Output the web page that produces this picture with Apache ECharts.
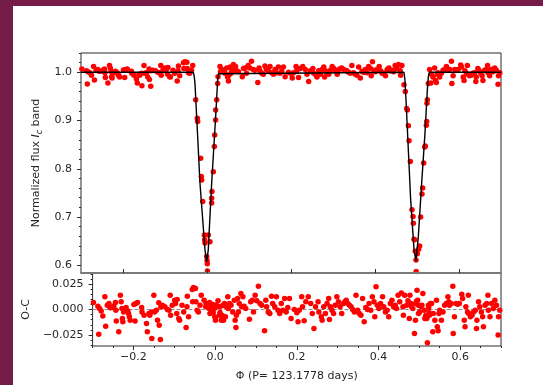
<!DOCTYPE html>
<html><head><meta charset="utf-8">
<script src="https://cdn.jsdelivr.net/npm/echarts@6/dist/echarts.min.js"></script>
<style>
html,body{margin:0;padding:0;background:#741b47;overflow:hidden;}
#wrap{position:absolute;left:0;top:0;width:543px;height:385px;background:#741b47;}
#chart{position:absolute;left:13px;top:6px;width:530px;height:379px;background:#ffffff;}
</style></head><body>
<div id="wrap"><div id="chart"></div></div>
<script>
const phase = [
-0.298,-0.287,-0.285,-0.283,-0.279,-0.275,-0.270,-0.268,-0.264,-0.260,
-0.257,-0.252,-0.248,-0.244,-0.243,-0.242,-0.236,-0.232,-0.230,-0.228,
-0.227,-0.226,-0.224,-0.218,-0.214,-0.212,-0.210,-0.208,-0.199,-0.196,
-0.194,-0.190,-0.180,-0.179,-0.174,-0.168,-0.166,-0.162,-0.160,-0.156,
-0.155,-0.150,-0.148,-0.144,-0.141,-0.138,-0.137,-0.134,-0.133,-0.129,
-0.123,-0.117,-0.113,-0.110,-0.109,-0.105,-0.099,-0.097,-0.094,-0.093,
-0.089,-0.087,-0.081,-0.077,-0.071,-0.069,-0.068,-0.065,-0.056,-0.055,
-0.053,-0.048,-0.047,-0.044,-0.041,-0.037,-0.034,-0.0270,-0.0230,-0.0222,
-0.0151,-0.0135,-0.0127,-0.0103,-0.0063,-0.0056,-0.0048,-0.0008,0.0000,0.0008,
0.0010,0.0030,0.0071,0.0111,0.0111,0.0119,0.0151,0.0175,0.0183,0.0206,
0.0206,0.0230,0.0254,0.0262,0.031,0.032,0.035,0.039,0.043,0.047,
0.049,0.051,0.052,0.055,0.057,0.059,0.063,0.065,0.068,0.071,
0.075,0.084,0.087,0.091,0.094,0.098,0.102,0.106,0.110,0.114,
0.121,0.124,0.126,0.130,0.134,0.138,0.141,0.146,0.150,0.154,
0.158,0.162,0.166,0.170,0.174,0.178,0.182,0.186,0.194,0.200,
0.203,0.206,0.212,0.214,0.218,0.222,0.228,0.234,0.238,0.242,
0.246,0.252,0.254,0.260,0.262,0.266,0.270,0.274,0.278,0.280,
0.282,0.286,0.290,0.294,0.298,0.302,0.306,0.310,0.314,0.318,
0.321,0.325,0.329,0.333,0.337,0.341,0.345,0.349,0.353,0.357,
0.361,0.365,0.369,0.373,0.377,0.381,0.385,0.389,0.391,0.394,
0.397,0.401,0.405,0.410,0.413,0.417,0.421,0.425,0.429,0.433,
0.437,0.441,0.444,0.448,0.452,0.456,0.460,0.461,0.464,0.4690,
0.4722,0.4754,0.4770,0.4794,0.4810,0.4841,0.4881,0.4905,0.4913,0.4929,
0.4944,0.4960,0.4976,0.4980,0.5008,0.5040,0.5063,0.5087,0.5119,0.5135,
0.5159,0.5183,0.5198,0.5222,0.5230,0.5238,0.5246,0.5270,0.530,0.533,
0.534,0.538,0.542,0.544,0.546,0.548,0.550,0.554,0.558,0.562,
0.566,0.570,0.572,0.574,0.578,0.582,0.583,0.586,0.590,0.594,
0.598,0.604,0.606,0.610,0.612,0.614,0.618,0.620,0.621,0.625,
0.629,0.633,0.637,0.640,0.641,0.645,0.648,0.652,0.655,0.657,
0.661,0.665,0.668,0.669,0.673,0.677,0.681,0.685,0.689,0.693,
0.694,0.697
];
const flux = [
1.007,1.003,0.976,1.001,0.999,0.994,1.012,0.984,1.004,1.006,
1.002,1.002,1.004,1.007,0.999,0.989,0.978,1.014,1.008,1.001,
0.991,0.988,0.998,1.002,0.999,0.996,0.993,0.990,1.005,0.989,
1.006,1.007,1.002,0.998,0.994,0.986,0.978,0.996,0.994,0.998,
0.972,1.014,0.998,0.999,0.990,1.007,0.985,0.971,1.003,1.004,
1.003,1.000,0.999,1.014,0.994,1.004,1.009,1.006,0.996,1.010,
0.991,0.990,1.004,0.998,0.982,1.003,1.013,0.993,1.020,1.008,
1.022,1.021,1.008,0.999,0.998,1.004,1.014,0.943,0.905,0.898,
0.822,0.784,0.777,0.732,0.663,0.653,0.646,0.618,0.610,0.603,
0.588,0.663,0.649,0.739,0.729,0.753,0.794,0.846,0.870,0.901,
0.922,0.943,0.977,0.991,1.012,1.001,1.006,1.004,0.998,1.009,
0.990,0.982,0.994,1.011,0.998,1.006,1.016,1.003,1.012,1.003,
1.001,0.991,1.008,1.009,0.998,1.014,1.009,1.023,1.006,1.004,
0.979,1.009,1.003,0.998,0.996,1.013,1.006,1.003,1.012,0.999,
0.996,1.006,0.999,1.011,0.998,1.002,1.011,0.991,1.000,0.997,
0.988,0.999,1.012,1.003,0.989,1.008,1.012,1.006,0.996,0.981,
1.003,1.008,0.998,0.993,0.990,1.003,0.996,1.006,1.011,0.990,
1.003,0.999,0.996,1.004,1.012,1.008,1.003,0.996,1.006,1.008,
1.009,1.006,1.004,1.003,1.000,0.998,1.014,0.999,0.996,0.994,
1.011,0.988,1.002,1.000,1.006,0.999,1.012,1.008,0.993,1.022,
1.004,1.001,1.006,1.012,1.003,0.998,0.999,0.993,1.006,1.009,
1.003,1.004,1.001,1.014,1.008,1.016,1.003,0.994,1.014,0.974,
0.960,0.925,0.922,0.889,0.858,0.815,0.715,0.701,0.687,0.654,
0.653,0.629,0.611,0.587,0.624,0.633,0.640,0.700,0.748,0.760,
0.812,0.845,0.847,0.890,0.898,0.936,0.943,0.977,1.006,0.978,
0.996,0.990,1.009,0.983,0.979,0.996,0.999,0.990,0.998,1.004,
1.006,1.012,1.008,1.004,1.006,1.023,0.977,0.993,1.006,1.005,
1.006,1.015,1.011,0.990,0.983,1.003,0.998,1.014,0.996,0.993,
0.994,0.998,0.999,0.981,0.990,1.008,1.003,0.998,0.993,0.983,
1.004,1.006,1.014,0.999,0.993,1.006,1.001,1.009,1.004,0.975,
0.993,0.999
];
const oc = [
0.0069,0.0032,-0.0242,0.0010,-0.0014,-0.0063,0.0124,-0.0164,0.0042,0.0059,
0.0016,0.0019,0.0035,0.0069,-0.0007,-0.0112,-0.0219,0.0140,0.0075,0.0010,
-0.0088,-0.0121,-0.0024,0.0020,-0.0014,-0.0039,-0.0072,-0.0105,0.0050,-0.0112,
0.0059,0.0069,0.0020,-0.0024,-0.0056,-0.0137,-0.0219,-0.0039,-0.0056,-0.0024,
-0.0284,0.0140,-0.0024,-0.0007,-0.0105,0.0066,-0.0154,-0.0294,0.0026,0.0042,
0.0026,0.0000,-0.0007,0.0140,-0.0056,0.0042,0.0091,0.0059,-0.0039,0.0098,
-0.0088,-0.0105,0.0042,-0.0024,-0.0176,0.0026,0.0130,-0.0072,0.0195,0.0075,
0.0216,0.0206,0.0075,-0.0007,-0.0024,0.0042,0.0140,0.0091,0.0026,0.0059,
0.0010,0.0069,-0.0039,0.0032,-0.0007,0.0050,-0.0030,-0.0072,0.0015,-0.0105,
-0.0080,0.0045,0.0085,0.0026,-0.0056,-0.0030,-0.0105,-0.0060,0.0040,-0.0105,
0.0042,0.0060,-0.0072,0.0030,0.0124,0.0010,0.0059,0.0042,-0.0024,0.0091,
-0.0105,-0.0176,-0.0056,0.0108,-0.0024,0.0059,0.0157,0.0026,0.0124,0.0032,
0.0010,-0.0095,0.0075,0.0091,-0.0024,0.0140,0.0085,0.0229,0.0059,0.0042,
-0.0209,0.0091,0.0026,-0.0024,-0.0039,0.0130,0.0059,0.0026,0.0124,-0.0007,
-0.0039,0.0059,-0.0007,0.0108,-0.0024,0.0020,0.0108,-0.0088,0.0000,-0.0033,
-0.0121,-0.0007,0.0124,0.0026,-0.0111,0.0075,0.0124,0.0059,-0.0039,-0.0186,
0.0026,0.0075,-0.0024,-0.0072,-0.0105,0.0026,-0.0039,0.0059,0.0108,-0.0098,
0.0026,-0.0007,-0.0039,0.0042,0.0124,0.0075,0.0026,-0.0039,0.0059,0.0075,
0.0091,0.0059,0.0042,0.0026,0.0000,-0.0024,0.0140,-0.0007,-0.0039,-0.0056,
0.0108,-0.0121,0.0020,0.0000,0.0059,-0.0007,0.0124,0.0075,-0.0072,0.0222,
0.0042,0.0010,0.0059,0.0124,0.0026,-0.0024,-0.0007,-0.0072,0.0059,0.0091,
0.0026,0.0042,0.0010,0.0140,0.0075,0.0163,0.0026,-0.0056,0.0140,0.0042,
0.0085,-0.0088,0.0140,0.0059,0.0026,0.0010,-0.0235,-0.0105,0.0060,0.0080,
0.0189,0.0091,0.0042,-0.0039,-0.0024,0.0030,0.0042,0.0157,-0.0007,-0.0088,
-0.0060,-0.0088,-0.0327,0.0042,0.0020,-0.0030,-0.0056,0.0060,0.0059,-0.0219,
-0.0039,-0.0105,0.0091,-0.0170,-0.0209,-0.0039,-0.0007,-0.0105,-0.0024,0.0042,
0.0059,0.0124,0.0075,0.0042,0.0059,0.0229,-0.0235,-0.0072,0.0059,0.0052,
0.0059,0.0150,0.0108,-0.0105,-0.0170,0.0026,-0.0024,0.0140,-0.0039,-0.0072,
-0.0056,-0.0024,-0.0007,-0.0186,-0.0105,0.0075,0.0026,-0.0024,-0.0072,-0.0170,
0.0042,0.0059,0.0140,-0.0007,-0.0072,0.0059,0.0010,0.0091,0.0042,-0.0251,
-0.0072,-0.0007
];
const modelPhase = [-0.30,-0.0325,-0.0305,-0.0286,-0.0246,-0.0167,-0.0048,-0.0008,0.0030,0.0111,0.0206,0.0254,0.0275,0.0294,
  0.4690,0.4712,0.4738,0.4794,0.4849,0.4929,0.4976,0.5032,0.5111,0.5190,0.5246,0.5272,0.5294,0.70];
const modelFlux = [1.000,1.000,0.992,0.977,0.908,0.770,0.632,0.607,0.632,0.770,0.908,0.984,0.997,1.000,
  1.000,0.985,0.943,0.839,0.736,0.632,0.609,0.660,0.770,0.874,0.963,0.992,1.000,1.000];

const phaseTicks = [-0.2,0.0,0.2,0.4,0.6];
const phaseMinorTicks = [-0.3,-0.25,-0.2,-0.15,-0.1,-0.05,0,0.05,0.1,0.15,0.2,0.25,0.3,0.35,0.4,0.45,0.5,0.55,0.6,0.65,0.7];
const fluxTicks = [0.6,0.7,0.8,0.9,1.0];
const fluxMinorTicks = [0.60,0.62,0.64,0.66,0.68,0.70,0.72,0.74,0.76,0.78,0.80,0.82,0.84,0.86,0.88,0.90,0.92,0.94,0.96,0.98,1.00,1.02,1.04];
const ocTicks = [-0.025,0.000,0.025];
const ocMinorTicks = [-0.035,-0.030,-0.025,-0.020,-0.015,-0.010,-0.005,0,0.005,0.010,0.015,0.020,0.025,0.030,0.035];

const FONT = 'DejaVu Sans';
const TXT = '#262626';
const AX = '#2a2a2a';
const minus = s => s.replace('-', '\u2212');

const obsTop = phase.map((p, i) => [p, flux[i]]);
const obsBot = phase.map((p, i) => [p, oc[i]]);
const model = modelPhase.map((p, i) => [p, modelFlux[i]]);

const chart = echarts.init(document.getElementById('chart'), null, {renderer: 'canvas'});
const G0 = {left: 68, width: 420, top: 47, height: 220};
const G1 = {left: 68, width: 420, top: 267, height: 73};
const noLine = {show: false, onZero: false};
chart.setOption({
  animation: false,
  backgroundColor: '#ffffff',
  grid: [
    Object.assign({show: true, borderColor: AX, borderWidth: 1, backgroundColor: 'transparent', containLabel: false}, G0),
    Object.assign({show: true, borderColor: AX, borderWidth: 1, backgroundColor: 'transparent', containLabel: false}, G1)
  ],
  xAxis: [
    {gridIndex: 0, type: 'value', min: -0.3, max: 0.7, position: 'bottom', z: 10,
     axisLine: {show: true, onZero: false, lineStyle: {color: '#7a7a7a', width: 2}},
     axisTick: {show: true, inside: true, length: 4, customValues: phaseTicks, lineStyle: {color: AX}},
     axisLabel: {show: false}, splitLine: {show: false}},
    {gridIndex: 1, type: 'value', min: -0.3, max: 0.7, position: 'bottom',
     axisLine: noLine,
     axisTick: {show: true, length: 4, customValues: phaseTicks, lineStyle: {color: AX}},
     axisLabel: {show: true, customValues: phaseTicks, margin: 6, fontFamily: FONT, fontSize: 11, color: TXT,
       formatter: v => minus(v.toFixed(1))},
     splitLine: {show: false},
     name: '\u03A6 (P= 123.1778 days)', nameLocation: 'middle', nameGap: 25,
     nameTextStyle: {fontFamily: FONT, fontSize: 11, color: TXT}},
    {gridIndex: 1, type: 'value', min: -0.3, max: 0.7, position: 'bottom',
     axisLine: noLine,
     axisTick: {show: true, length: 2, customValues: phaseMinorTicks, lineStyle: {color: AX}},
     axisLabel: {show: false}, splitLine: {show: false}}
  ],
  yAxis: [
    {gridIndex: 0, type: 'value', min: 0.584, max: 1.04, position: 'left',
     axisLine: noLine,
     axisTick: {show: true, length: 4, customValues: fluxTicks, lineStyle: {color: AX}},
     axisLabel: {show: true, customValues: fluxTicks, margin: 9, fontFamily: FONT, fontSize: 11, color: TXT,
       formatter: v => v.toFixed(1)},
     splitLine: {show: false},
     name: '{a|Normalized flux }{b|I}{c|c}{a| band}', nameLocation: 'middle', nameGap: 31,
     nameTextStyle: {fontFamily: FONT, fontSize: 11, color: TXT,
       rich: {a: {fontFamily: FONT, fontSize: 11, color: TXT, lineHeight: 14},
              b: {fontFamily: FONT, fontSize: 11, color: TXT, fontStyle: 'italic', lineHeight: 14},
              c: {fontFamily: FONT, fontSize: 8, color: TXT, fontStyle: 'italic', lineHeight: 10, verticalAlign: 'bottom'}}}},
    {gridIndex: 0, type: 'value', min: 0.584, max: 1.04, position: 'left', offset: 0,
     axisLine: noLine,
     axisTick: {show: true, length: 2, customValues: fluxMinorTicks, lineStyle: {color: AX}},
     axisLabel: {show: false}, splitLine: {show: false}},
    {gridIndex: 1, type: 'value', min: -0.0358, max: 0.0358, position: 'left',
     axisLine: noLine,
     axisTick: {show: true, length: 4, customValues: ocTicks, lineStyle: {color: AX}},
     axisLabel: {show: true, customValues: ocTicks, margin: 9, fontFamily: FONT, fontSize: 11, color: TXT,
       formatter: v => minus(v.toFixed(3))},
     splitLine: {show: false},
     name: 'O-C', nameLocation: 'middle', nameGap: 56,
     nameTextStyle: {fontFamily: FONT, fontSize: 11, color: TXT}},
    {gridIndex: 1, type: 'value', min: -0.0358, max: 0.0358, position: 'left', offset: 0,
     axisLine: noLine,
     axisTick: {show: true, length: 2, customValues: ocMinorTicks, lineStyle: {color: AX}},
     axisLabel: {show: false}, splitLine: {show: false}}
  ],
  series: [
    {type: 'scatter', xAxisIndex: 0, yAxisIndex: 0, data: obsTop, symbolSize: 5.5,
     itemStyle: {color: '#ff0000', opacity: 1}, z: 2, silent: true},
    {type: 'line', xAxisIndex: 0, yAxisIndex: 0, data: model, showSymbol: false, symbol: 'none',
     lineStyle: {color: '#000000', width: 1.4}, z: 3, silent: true},
    {type: 'scatter', xAxisIndex: 1, yAxisIndex: 2, data: obsBot, symbolSize: 5.5,
     itemStyle: {color: '#ff0000', opacity: 1}, z: 3, silent: true,
     markLine: {silent: true, symbol: ['none', 'none'], label: {show: false}, z: 1,
       lineStyle: {type: [4, 2], color: '#8c8c8c', width: 1},
       data: [{yAxis: 0}]}}
  ]
});
</script>
</body></html>
